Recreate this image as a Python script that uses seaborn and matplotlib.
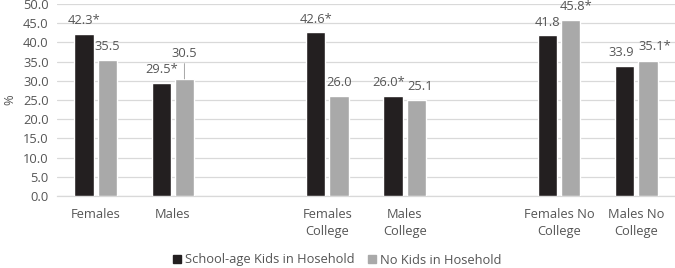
import matplotlib
matplotlib.use("Agg")
import matplotlib.pyplot as plt
import seaborn as sns
import pandas as pd
import numpy as np

categories = ["Females", "Males", "gap1", "Females\nCollege", "Males\nCollege",
              "gap2", "Females No\nCollege", "Males No\nCollege"]
tick_labels = ["Females", "Males", "", "Females\nCollege", "Males\nCollege",
               "", "Females No\nCollege", "Males No\nCollege"]
data_categories = ["Females", "Males", "Females\nCollege", "Males\nCollege",
                   "Females No\nCollege", "Males No\nCollege"]
kids_values = [42.3, 29.5, 42.6, 26.0, 41.8, 33.9]
nokids_values = [35.5, 30.5, 26.0, 25.1, 45.8, 35.1]
kids_labels = ["42.3*", "29.5*", "42.6*", "26.0*", "41.8", "33.9"]
nokids_labels = ["35.5", "30.5", "26.0", "25.1", "45.8*", "35.1*"]
series = ["School-age Kids in Hosehold", "No Kids in Hosehold"]

df = pd.DataFrame({
    "cat": data_categories * 2,
    "val": kids_values + nokids_values,
    "series": [series[0]] * 6 + [series[1]] * 6,
})

sns.set_theme(style="white")
plt.rcParams["font.family"] = ["Open Sans", "DejaVu Sans"]
TXT = "#555555"
FS = 9.3

fig = plt.figure(figsize=(6.75, 2.68), dpi=100)
ax = fig.add_axes([57 / 675, 1 - 196 / 268, 1 - 57 / 675, (196 - 4) / 268])

sns.barplot(data=df, x="cat", y="val", hue="series", order=categories,
            hue_order=series, palette=["#231f20", "#a9a9a9"],
            width=0.6, gap=0.17, saturation=1, ax=ax, errorbar=None,
            zorder=3, legend=False)

ax.set_ylim(0, 50)
ax.set_yticks(np.arange(0, 50.1, 5))
ax.set_yticklabels([f"{v:.1f}" for v in np.arange(0, 50.1, 5)], color=TXT, fontsize=FS)
ax.set_xticks(range(len(categories)))
ax.set_xticklabels(tick_labels, color=TXT, fontsize=FS, linespacing=1.35)
ax.tick_params(axis="both", length=0)
ax.tick_params(axis="x", pad=9)
ax.tick_params(axis="y", pad=6)
ax.set_xlim(-0.5, len(categories) - 0.5)
ax.set_xlabel("")
ax.set_ylabel("%", color=TXT, fontsize=FS, labelpad=5)
ax.grid(axis="y", color="#d9d9d9", linewidth=0.9, zorder=0)
for s in ["top", "right", "left"]:
    ax.spines[s].set_visible(False)
ax.spines["bottom"].set_color("#d9d9d9")
ax.spines["bottom"].set_linewidth(0.9)

# label nudges in points (dx, dy)
nudges = {"30.5": (0, 18), "26.0*": (-3, 9.5), "25.1": (3, 9.5),
          "45.8*": (3.5, 9.5), "33.9": (-2.5, 9.5), "35.1*": (5, 10.5)}

for cont, labels in zip(ax.containers, [kids_labels, nokids_labels]):
    bars = [b for b in cont if not np.isnan(b.get_height())]
    for bar, lab in zip(bars, labels):
        x = bar.get_x() + bar.get_width() / 2
        h = bar.get_height()
        dx, dy = nudges.get(lab, (0, 9.5))
        if lab == "30.5":
            ax.annotate("", xy=(x, h), xytext=(0, 11), textcoords="offset points",
                        xycoords="data",
                        arrowprops=dict(arrowstyle="-", color="#a6a6a6", lw=0.7,
                                        shrinkA=0, shrinkB=0))
        ax.annotate(lab, xy=(x, h), xytext=(dx, dy), textcoords="offset points",
                    ha="center", va="center", fontsize=FS, color=TXT)

handles = [plt.Rectangle((0, 0), 1, 1, color=c) for c in ["#231f20", "#a9a9a9"]]
fig.legend(handles, series, loc="center", bbox_to_anchor=(337 / 675, 1 - 260 / 268),
           ncol=2, frameon=False, fontsize=FS, handlelength=0.65, handleheight=0.65,
           handletextpad=0.3, columnspacing=1.0, labelcolor=TXT)

fig.savefig("out.png", dpi=100)
